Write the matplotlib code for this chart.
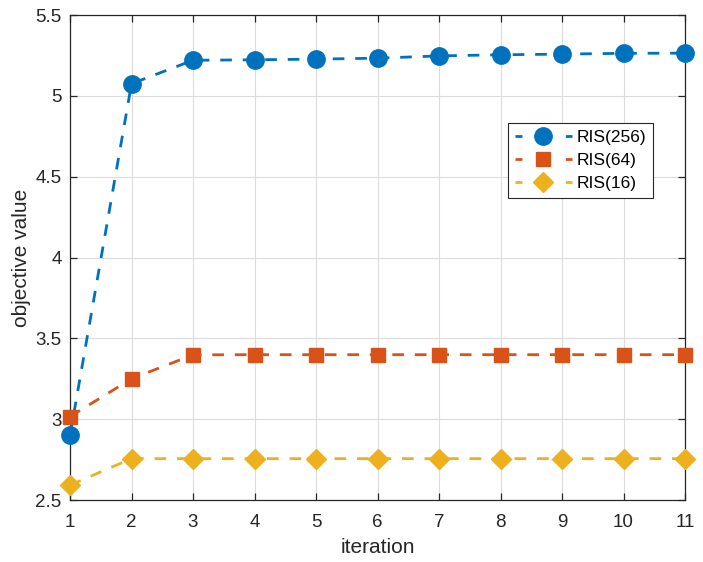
import matplotlib
matplotlib.use("Agg")
import matplotlib.pyplot as plt

# values
iterations = [1, 2, 3, 4, 5, 6, 7, 8, 9, 10, 11]
ris_256 = [2.90, 5.075, 5.22, 5.223, 5.227, 5.233, 5.247, 5.254, 5.258, 5.263, 5.264]
ris_64 = [3.016, 3.25, 3.398, 3.399, 3.399, 3.399, 3.399, 3.399, 3.399, 3.399, 3.399]
ris_16 = [2.592, 2.756, 2.756, 2.756, 2.756, 2.756, 2.756, 2.756, 2.756, 2.756, 2.756]
series_names = ["RIS(256)", "RIS(64)", "RIS(16)"]
y_ticks = [2.5, 3, 3.5, 4, 4.5, 5, 5.5]
y_tick_labels = ["2.5", "3", "3.5", "4", "4.5", "5", "5.5"]

COLORS = ["#0072BD", "#D95319", "#EDB120"]
MARKERS = ["o", "s", "D"]
MSIZES = [12.5, 10, 10.5]
AX_COLOR = "#262626"
LEG_FS = 12.5
LEG_HL = 3.3

plt.rcParams["font.family"] = ["Liberation Sans", "DejaVu Sans"]

fig = plt.figure(figsize=(7.03, 5.62), dpi=100)
ax = fig.add_axes([0.0996, 0.1103, 0.8748, 0.863])

for vals, name, col, mk, ms in zip([ris_256, ris_64, ris_16], series_names, COLORS, MARKERS, MSIZES):
    ax.plot(iterations, vals, linestyle=(0, (4.2, 3.9)), linewidth=2, color=col,
            marker=mk, markersize=ms, markerfacecolor=col, markeredgecolor=col,
            label=name, clip_on=False, zorder=3)

ax.set_xlim(1, 11)
ax.set_ylim(2.5, 5.5)
ax.set_xticks(iterations)
ax.set_yticks(y_ticks)
ax.set_yticklabels(y_tick_labels)
ax.grid(True, color="#dcdcdc", linewidth=0.8)
ax.set_axisbelow(True)

for sp in ax.spines.values():
    sp.set_color(AX_COLOR)
    sp.set_linewidth(0.9)
ax.tick_params(direction="in", top=True, right=True, length=5, width=0.9,
               colors=AX_COLOR, labelsize=13.5, pad=6)
ax.tick_params(axis="x", pad=10)

ax.set_xlabel("iteration", fontsize=15, color=AX_COLOR, labelpad=5)
ax.set_ylabel("objective value", fontsize=15, color=AX_COLOR, labelpad=3)

leg = ax.legend(loc="upper right", bbox_to_anchor=(0.9475, 0.777), fontsize=LEG_FS,
                fancybox=False, framealpha=1, edgecolor=AX_COLOR,
                handlelength=LEG_HL, handletextpad=0.25, borderpad=0.4, labelspacing=0.45,
                borderaxespad=0)
leg.get_frame().set_linewidth(0.8)
# short dash on each side of the marker, like the MATLAB legend
gap = LEG_FS * LEG_HL - 10
for line in leg.get_lines():
    line.set_linestyle((0, (2.5, gap / 2)))

fig.savefig("out.png", dpi=100)
